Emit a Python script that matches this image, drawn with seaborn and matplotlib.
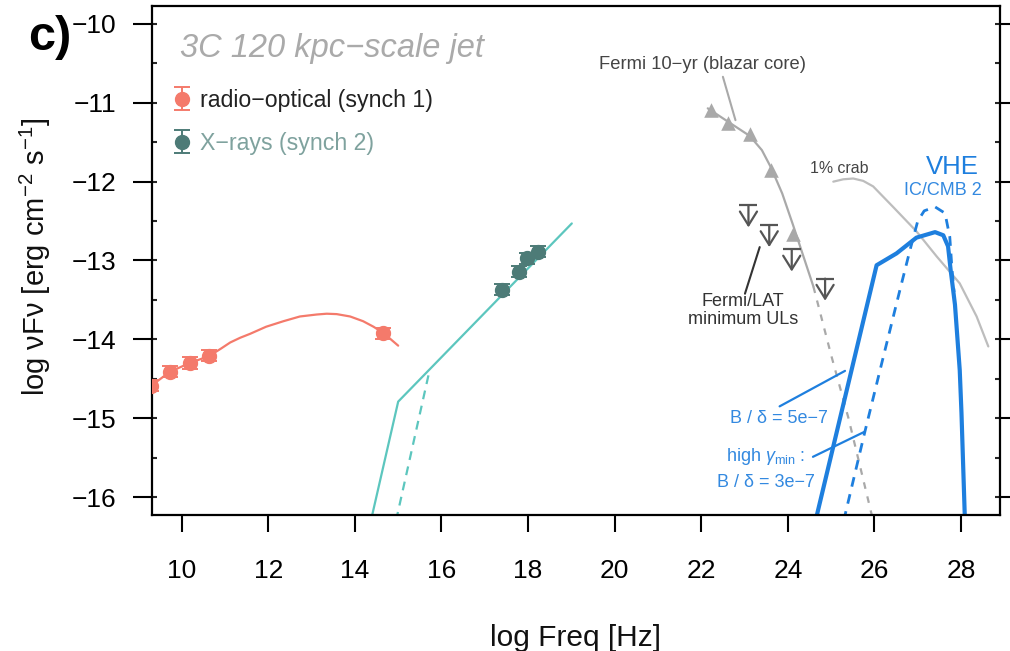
import numpy as np
import pandas as pd
import matplotlib
matplotlib.use("Agg")
import matplotlib.pyplot as plt
import seaborn as sns
from matplotlib.ticker import MultipleLocator

# ---------------- data ----------------
radio_x = [9.30, 9.73, 10.19, 10.64, 14.66]
radio_y = [-14.59, -14.41, -14.30, -14.21, -13.92]
radio_err = [0.07, 0.07, 0.07, 0.07, 0.07]

synch1_x = [9.27, 9.73, 10.19, 10.64, 10.90, 11.12, 11.35, 11.58, 11.95, 12.35,
            12.73, 13.12, 13.35, 13.58, 13.89, 14.19, 14.43, 14.66, 15.00]
synch1_y = [-14.60, -14.41, -14.30, -14.21, -14.12, -14.04, -13.98, -13.93,
            -13.84, -13.77, -13.71, -13.685, -13.675, -13.68, -13.71, -13.77,
            -13.84, -13.92, -14.08]

xray_x = [17.39, 17.80, 17.97, 18.24]
xray_y = [-13.37, -13.14, -12.97, -12.89]
xray_err = [0.07, 0.07, 0.07, 0.07]

synch2_x = [14.37, 15.00, 19.01]
synch2_y = [-16.30, -14.79, -12.53]
synch2_hi_x = [14.95, 15.73]
synch2_hi_y = [-16.30, -14.38]

fermi_x = [22.22, 22.62, 23.12, 23.61, 24.12]
fermi_y = [-11.09, -11.25, -11.40, -11.85, -12.66]
fermi_fit_x = [22.15, 22.62, 23.12, 23.40, 23.61, 23.87, 24.12, 24.59]
fermi_fit_y = [-11.07, -11.24, -11.42, -11.60, -11.82, -12.15, -12.55, -13.33]
fermi_ext_x = [24.59, 25.00, 25.40, 25.97]
fermi_ext_y = [-13.33, -14.20, -15.00, -16.30]

ul_x = [23.09, 23.57, 24.09, 24.86]
ul_y = [-12.30, -12.55, -12.86, -13.23]
ul_len = 0.28

crab_x = [25.05, 25.28, 25.51, 25.74, 25.97, 26.43, 26.97, 27.44, 27.97, 28.36, 28.63]
crab_y = [-12.00, -11.97, -11.96, -11.99, -12.06, -12.32, -12.63, -12.95, -13.29, -13.71, -14.09]

vhe_x = [24.64, 26.05, 26.51, 26.97, 27.40, 27.59, 27.70, 27.76, 27.86, 27.97, 28.01, 28.09]
vhe_y = [-16.30, -13.06, -12.91, -12.71, -12.64, -12.68, -12.82, -13.12, -13.56, -14.39, -14.93, -16.30]
vhe_hi_x = [25.29, 25.78, 26.17, 26.59, 26.82, 27.00, 27.15, 27.40, 27.63, 27.74, 27.79, 27.84]
vhe_hi_y = [-16.30, -15.17, -14.30, -13.37, -12.87, -12.50, -12.37, -12.32, -12.40, -12.70, -13.10, -13.40]

x_ticks = [10, 12, 14, 16, 18, 20, 22, 24, 26, 28]
y_ticks = [-16, -15, -14, -13, -12, -11, -10]

# ---------------- style ----------------
sns.set_theme(style="ticks")
plt.rcParams["font.family"] = ["Liberation Sans", "DejaVu Sans"]
plt.rcParams["mathtext.fontset"] = "custom"
plt.rcParams["mathtext.rm"] = "Liberation Sans"
plt.rcParams["mathtext.it"] = "Liberation Sans:italic"
plt.rcParams["axes.unicode_minus"] = True

RED = "#F47A6B"
TEAL_LINE = "#5CC6BE"
TEAL_PT = "#4D7B77"
GRAY = "#A9A9A9"
CRAB = "#BDBDBD"
DARK = "#555555"
BLUE = "#1E7FDE"
BLUE_TXT = "#3389E0"

fig = plt.figure(figsize=(10.1, 6.51), dpi=100)
ax = fig.add_axes([152 / 1010, 136 / 651, 848 / 1010, 509 / 651])

# ---------------- model curves ----------------
def line(xs, ys, color, lw, ls="-"):
    sns.lineplot(x=xs, y=ys, ax=ax, color=color, linewidth=lw, linestyle=ls,
                 sort=False, estimator=None, errorbar=None)

line(synch1_x, synch1_y, RED, 1.6)
line(synch2_x, synch2_y, TEAL_LINE, 1.6)
line(synch2_hi_x, synch2_hi_y, TEAL_LINE, 1.6, (0, (4, 3)))
line(fermi_fit_x, fermi_fit_y, GRAY, 1.6)
line(fermi_ext_x, fermi_ext_y, GRAY, 1.6, (0, (3, 3.5)))
line(crab_x, crab_y, CRAB, 1.6)
line(vhe_hi_x, vhe_hi_y, BLUE, 2.0, (0, (3.5, 2.8)))
line(vhe_x, vhe_y, BLUE, 3.0)

# ---------------- data points ----------------
sns.scatterplot(x=fermi_x, y=fermi_y, ax=ax, marker="^", s=110, color=GRAY,
                edgecolor=GRAY, linewidth=0, zorder=4)

eb1 = ax.errorbar(radio_x, radio_y, yerr=radio_err, fmt="o", color=RED, ms=10,
                  capsize=5.5, elinewidth=1.4, capthick=1.4, zorder=5)
eb2 = ax.errorbar(xray_x, xray_y, yerr=xray_err, fmt="o", color=TEAL_PT, ms=10,
                  capsize=5.5, elinewidth=1.4, capthick=1.4, zorder=5)

# upper limits
sns.scatterplot(x=ul_x, y=ul_y, ax=ax, marker="_", s=150, color=DARK,
                linewidth=1.6, zorder=4)
for ux, uy in zip(ul_x, ul_y):
    ax.annotate("", xy=(ux, uy - ul_len), xytext=(ux, uy),
                arrowprops=dict(arrowstyle="->,head_length=0.45,head_width=0.28",
                                lw=1.6, color=DARK, shrinkA=0, shrinkB=0,
                                mutation_scale=22))

# ---------------- axes ----------------
ax.set_xlim(9.314, 28.90)
ax.set_ylim(-16.228, -9.772)
ax.xaxis.set_major_locator(plt.FixedLocator(x_ticks))
ax.yaxis.set_major_locator(plt.FixedLocator(y_ticks))
ax.yaxis.set_minor_locator(MultipleLocator(0.5))
ax.yaxis.remove_overlapping_locs = False

for sp in ax.spines.values():
    sp.set_linewidth(1.6)
    sp.set_color("black")

ax.tick_params(axis="y", which="major", direction="out", length=13.7, width=1.5,
               left=True, right=True, labelsize=19, pad=12, colors="black")
ax.tick_params(axis="y", which="minor", direction="in", length=3.8, width=1.5,
               left=True, right=True)
ax.tick_params(axis="x", which="major", direction="out", length=12.5, width=1.5,
               bottom=True, top=False, labelsize=19, pad=19, colors="black")
ax.grid(False)

ax.set_xlabel("log Freq [Hz]", fontsize=21.5, color="#111111")
ax.set_ylabel(r"log νFν [erg cm$^{-2}$ s$^{-1}$]", fontsize=21, color="#111111")
ax.xaxis.set_label_coords(0.5, -0.214)
ax.yaxis.set_label_coords(-0.117, 0.508)

# ---------------- legend ----------------
leg = ax.legend(handles=[eb1, eb2],
                labels=["radio\u2212optical (synch 1)", "X\u2212rays (synch 2)"],
                loc="upper left", bbox_to_anchor=(0.0217, 0.837), frameon=False,
                fontsize=16.7, handlelength=1.0, handletextpad=0.28, borderpad=0,
                borderaxespad=0, labelspacing=0.86)
for t, c in zip(leg.get_texts(), ["#222222", "#7FA29E"]):
    t.set_color(c)

# ---------------- annotations ----------------
ax.text(9.96, -10.42, "3C 120 kpc\u2212scale jet", fontsize=23.5, style="italic",
        color="#AAAAAA", ha="left", va="baseline")

ax.text(22.04, -10.52, "Fermi 10\u2212yr (blazar core)", fontsize=13.2,
        color="#444444", ha="center", va="center")
ax.plot([22.50, 22.79], [-10.67, -11.22], color=GRAY, lw=1.5)

ax.text(22.96, -13.63, "Fermi/LAT\nminimum ULs", fontsize=13, color="#333333",
        ha="center", va="center", linespacing=1.08)
ax.plot([23.01, 23.35], [-13.42, -12.83], color="#333333", lw=1.5)

ax.text(25.19, -11.83, "1% crab", fontsize=11.4, color="#444444",
        ha="center", va="center")

ax.text(27.80, -11.81, "VHE", fontsize=18.5, color=BLUE, ha="center", va="center")
ax.text(27.59, -12.11, "IC/CMB 2", fontsize=13, color=BLUE_TXT, ha="center", va="center")

ax.text(23.80, -15.01, "B / δ = 5e\u22127", fontsize=13, color=BLUE_TXT,
        ha="center", va="center")
ax.plot([23.81, 25.32], [-14.85, -14.40], color=BLUE, lw=1.6)

ax.text(23.48, -15.48, r"high $\gamma_{\mathrm{min}}$ :", fontsize=13, color=BLUE_TXT,
        ha="center", va="center")
ax.text(23.49, -15.81, "B / δ = 3e\u22127", fontsize=13, color=BLUE_TXT,
        ha="center", va="center")
ax.plot([24.58, 25.78], [-15.49, -15.17], color=BLUE, lw=1.6)

fig.text(28 / 1010, 1 - 50 / 651, "c)", fontsize=35, fontweight="bold",
         color="black", ha="left", va="baseline")

fig.savefig("out.png", dpi=100)
